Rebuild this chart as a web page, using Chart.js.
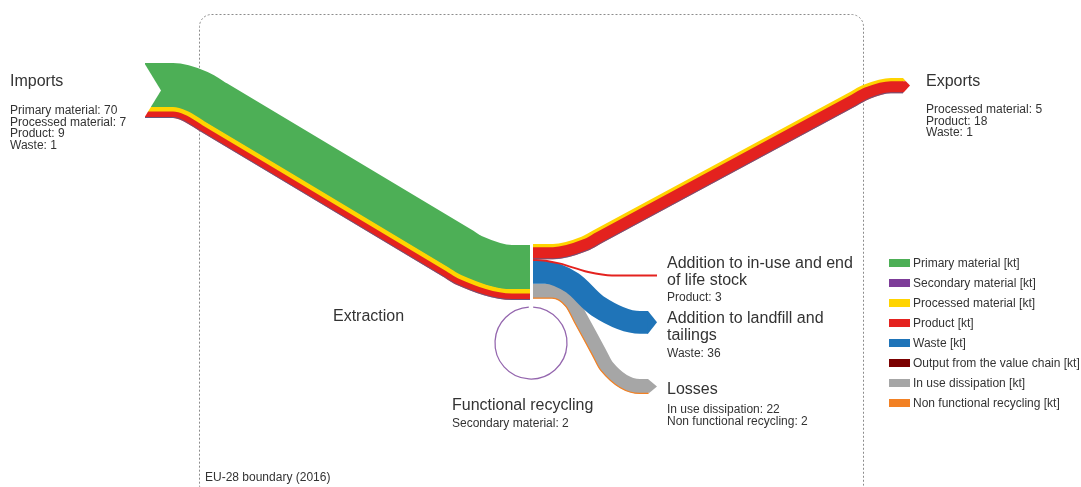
<!DOCTYPE html>
<html>
<head>
<meta charset="utf-8">
<script src="https://cdn.jsdelivr.net/npm/chart.js@4.4.0/dist/chart.umd.min.js"></script>
<style>
  body { margin: 0; background: #fff; }
  #wrap { position: relative; width: 1081px; height: 487px; overflow: hidden; font-family: 'Liberation Sans', Arial, sans-serif; color: #333; }
  #wrap canvas { position: absolute; left: 0; top: 0; }
  .t { position: absolute; white-space: nowrap; }
  .h { font-size: 16px; line-height: 16px; }
  .s { font-size: 12px; line-height: 12px; }
  .box { position: absolute; width: 21px; height: 8px; }
</style>
</head>
<body>
<div id="wrap"><canvas id="sankey" width="1081" height="487"></canvas></div>
<script>
// Materiales y colores de la leyenda
const materials = ['Primary material [kt]', 'Secondary material [kt]', 'Processed material [kt]', 'Product [kt]',
  'Waste [kt]', 'Output from the value chain [kt]', 'In use dissipation [kt]', 'Non functional recycling [kt]'];
const materialColors = ['#4DAF56', '#7D3C98', '#FFD400', '#E4221F', '#1F74B8', '#7A0000', '#A6A6A6', '#F28124'];

// Flujos en kt (índices a materials)
const importMats = [0, 2, 3, 4];
const importValues = [70, 7, 9, 1];
const exportMats = [2, 3, 4];
const exportValues = [5, 18, 1];
const stockMats = [3];
const stockValues = [3];
const landfillMats = [4];
const landfillValues = [36];
const lossMats = [6, 7];
const lossValues = [22, 2];
const recyclingMats = [1];
const recyclingValues = [2];

// Layout (px por kt y trazado de las bandas)
const K = 0.63;
const OUT_X = 533, OUT_TOP = 244;
const sum = a => a.reduce((s, v) => s + v, 0);

const flowDefs = [
  { mats: importMats, values: importValues, path: [[145, 63], [193, 63], [497, 245], [530, 245]], r: [20, 15], tail: 16 }
];
let yOut = OUT_TOP;
function outFlow(mats, values, runX, rest, r, tip) {
  flowDefs.push({ mats, values, path: [[OUT_X, yOut], [runX, yOut], ...rest], r, tip });
  yOut += sum(values) * K;
}
outFlow(exportMats, exportValues, 568, [[876, 78], [903, 78]], [15, 15], 7);
outFlow(stockMats, stockValues, 548, [[600, 274.5], [657, 274.5]], [12, 12], 0);
outFlow(landfillMats, landfillValues, 565, [[620, 311], [648, 311]], [20, 20], 9);
outFlow(lossMats, lossValues, 570, [[622, 379], [648, 379]], [18, 18], 9);

// Puntos de una línea paralela al borde superior, desplazada d px hacia abajo, con esquinas redondeadas
function bandPoints(path, r, d) {
  const n = path.length, pts = [];
  for (let j = 0; j < n - 1; j++) {
    const [x0, y0] = path[j], [x1, y1] = path[j + 1];
    const L = Math.hypot(x1 - x0, y1 - y0), ux = (x1 - x0) / L, uy = (y1 - y0) / L;
    const a = j > 0 ? r[j - 1] : 0, b = j < n - 2 ? r[j] : 0;
    const ds = [a];
    if (a > 0 && 2 * a < L - 2 * b) ds.push(2 * a);
    if (b > 0 && L - 2 * b > 2 * a) ds.push(L - 2 * b);
    ds.push(L - b);
    ds.forEach(s => pts.push({ x: x0 + ux * s - uy * d, y: y0 + uy * s + ux * d }));
  }
  return pts;
}

const datasets = [];
flowDefs.forEach(f => {
  let cum = 0;
  f.values.forEach((v, i) => {
    const w = v * K;
    const bw = i === f.values.length - 1 ? w : w + 0.8;
    datasets.push({
      data: bandPoints(f.path, f.r, cum + bw / 2),
      borderColor: materialColors[f.mats[i]],
      borderWidth: bw,
      order: -i
    });
    cum += w;
  });
});

// Plugin: borde punteado, puntas de flecha, muesca de importaciones y bucle de reciclaje
const sankeyExtras = {
  id: 'sankeyExtras',
  beforeDatasetsDraw(chart) {
    const { ctx, scales: { x, y } } = chart;
    const l = x.getPixelForValue(199.5), r = x.getPixelForValue(863.5), t = y.getPixelForValue(14.5), b = y.getPixelForValue(497), rad = 12;
    ctx.save();
    ctx.strokeStyle = '#8c8c8c'; ctx.lineWidth = 1; ctx.setLineDash([2, 2]);
    ctx.beginPath();
    ctx.moveTo(l + rad, t); ctx.arcTo(r, t, r, b, rad); ctx.arcTo(r, b, l, b, rad);
    ctx.arcTo(l, b, l, t, rad); ctx.arcTo(l, t, r, t, rad); ctx.closePath();
    ctx.stroke();
    ctx.restore();
  },
  afterDatasetsDraw(chart) {
    const { ctx, scales: { x, y } } = chart;
    const poly = (pts, color) => {
      ctx.beginPath();
      pts.forEach((p, i) => ctx[i ? 'lineTo' : 'moveTo'](x.getPixelForValue(p[0]), y.getPixelForValue(p[1])));
      ctx.closePath(); ctx.fillStyle = color; ctx.fill();
    };
    ctx.save();
    flowDefs.forEach(f => {
      const total = sum(f.values) * K;
      if (f.tip) {
        const [ex, ey] = f.path[f.path.length - 1];
        const yc = ey + total / 2;
        const fx = yy => ex + f.tip * (1 - Math.abs(yy - yc) / (total / 2));
        let cum = 0;
        f.values.forEach((v, i) => {
          const y1 = ey + cum, y2 = ey + cum + v * K;
          cum += v * K;
          const pts = [[ex - 0.5, y1], [fx(y1), y1]];
          if (y1 < yc && y2 > yc) pts.push([ex + f.tip, yc]);
          pts.push([fx(y2), y2], [ex - 0.5, y2]);
          poly(pts, materialColors[f.mats[i]]);
        });
      }
      if (f.tail) {
        const [sx, sy] = f.path[0];
        poly([[sx - 2, sy - 2], [sx + f.tail, sy + total / 2], [sx - 2, sy + total + 2]], '#fff');
      }
    });
    // bucle de reciclaje funcional
    const cx = x.getPixelForValue(531), cy = y.getPixelForValue(343);
    ctx.beginPath();
    ctx.arc(cx, cy, 36, -Math.PI / 2 + 0.06, Math.PI * 1.5 - 0.06);
    ctx.strokeStyle = '#9466AE';
    ctx.lineWidth = Math.max(1.1, sum(recyclingValues) * K);
    ctx.stroke();
    ctx.restore();
  }
};

new Chart(document.getElementById('sankey'), {
  type: 'line',
  data: { datasets },
  options: {
    responsive: false, animation: false, events: [],
    layout: { padding: 0 },
    elements: { point: { radius: 0 }, line: { fill: false, cubicInterpolationMode: 'monotone', borderCapStyle: 'butt' } },
    datasets: { line: { clip: false } },
    scales: {
      x: { type: 'linear', min: 0, max: 1081, display: false },
      y: { type: 'linear', min: 0, max: 487, reverse: true, display: false }
    },
    plugins: { legend: { display: false }, tooltip: { enabled: false } }
  },
  plugins: [sankeyExtras]
});

// Textos (HTML) a partir de los datos
const wrap = document.getElementById('wrap');
function addText(x, baseline, text, big) {
  const d = document.createElement('div');
  d.className = 't ' + (big ? 'h' : 's');
  d.style.left = x + 'px';
  d.style.top = (baseline - (big ? 13.5 : 10.2)) + 'px';
  d.textContent = text;
  wrap.appendChild(d);
}
const short = m => materials[m].replace(' [kt]', '');
function node(x, base, titleLines, mats, values, subBase, step) {
  titleLines.forEach((tl, i) => addText(x, base + i * 17.5, tl, true));
  values.forEach((v, i) => addText(x, subBase + i * step, short(mats[i]) + ': ' + v, false));
}
node(10, 86, ['Imports'], importMats, importValues, 114, 11.7);
node(926, 86, ['Exports'], exportMats, exportValues, 113, 11.7);
node(333, 321, ['Extraction'], [], [], 0, 0);
node(667, 268, ['Addition to in-use and end', 'of life stock'], stockMats, stockValues, 301, 12);
node(667, 323, ['Addition to landfill and', 'tailings'], landfillMats, landfillValues, 357.5, 12);
node(667, 394, ['Losses'], lossMats, lossValues, 413, 12.5);
node(452, 410, ['Functional recycling'], recyclingMats, recyclingValues, 427, 12);
addText(205, 481, 'EU-28 boundary (2016)', false);

// Leyenda
materials.forEach((m, i) => {
  const cy = 262.7 + i * 20;
  const b = document.createElement('div');
  b.className = 'box';
  b.style.left = '889px'; b.style.top = (cy - 4) + 'px'; b.style.background = materialColors[i];
  wrap.appendChild(b);
  addText(913, cy + 4.3, m, false);
});
</script>
</body>
</html>
